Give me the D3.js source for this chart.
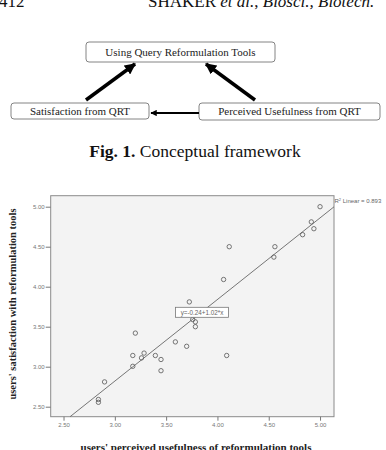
<!DOCTYPE html>
<html>
<head>
<meta charset="utf-8">
<script src="https://cdn.jsdelivr.net/npm/d3@7"></script>
<style>
  body { margin: 0; background: #fff; }
  svg { display: block; }
</style>
</head>
<body>
<div id="chart"></div>
<script>
// data
var usefulness = [5.00, 4.915, 4.94, 4.83, 4.56, 4.55, 4.115, 4.06, 3.726, 3.759, 3.785, 3.785,
                  3.20, 3.59, 3.70, 3.175, 3.285, 3.26, 3.395, 3.45, 3.45, 3.175, 4.09, 2.90, 2.84, 2.84];
var satisfaction = [5.00, 4.81, 4.725, 4.65, 4.50, 4.37, 4.50, 4.09, 3.81, 3.59, 3.56, 3.50,
                    3.42, 3.31, 3.255, 3.14, 3.17, 3.11, 3.14, 3.09, 2.95, 3.005, 3.14, 2.81, 2.59, 2.555];
var tickValues = [2.5, 3.0, 3.5, 4.0, 4.5, 5.0];
var fit = { a: -0.24, b: 1.02 };
var boxLabels = ["Using Query Reformulation Tools", "Satisfaction from QRT", "Perceived Usefulness from QRT"];

var width = 386, height = 450;
var serif = "'Liberation Serif', 'Times New Roman', serif";
var sans = "'Liberation Sans', Arial, sans-serif";

var svg = d3.select("#chart").append("svg")
  .attr("width", width)
  .attr("height", height);

// page header (cut at top)
var header = svg.append("g").attr("font-family", serif).attr("font-size", 17).attr("fill", "#111");
header.append("text").attr("x", -1).attr("y", 7).text("412");
var h2 = header.append("text").attr("x", 148).attr("y", 7);
h2.append("tspan").text("SHAKER ");
h2.append("tspan").attr("font-style", "italic").text("et al.");
h2.append("tspan").text(", ");
h2.append("tspan").attr("font-style", "italic").text("Biosci., Biotech.");

// conceptual framework diagram
svg.append("defs").append("marker")
  .attr("id", "head")
  .attr("viewBox", "0 0 10 10")
  .attr("refX", 9).attr("refY", 5)
  .attr("markerWidth", 3.2).attr("markerHeight", 3.2)
  .attr("markerUnits", "strokeWidth")
  .attr("orient", "auto")
  .append("path").attr("d", "M0,0L10,5L0,10Z").attr("fill", "#000");

var boxes = [
  { x: 86, y: 42, w: 189, h: 20 },
  { x: 11, y: 103, w: 138, h: 16 },
  { x: 199, y: 103, w: 181, h: 17 }
];
var diagram = svg.append("g");
diagram.selectAll("rect").data(boxes).enter().append("rect")
  .attr("x", function(d) { return d.x; })
  .attr("y", function(d) { return d.y; })
  .attr("width", function(d) { return d.w; })
  .attr("height", function(d) { return d.h; })
  .attr("rx", 3)
  .attr("fill", "#fff")
  .attr("stroke", "#666")
  .attr("stroke-width", 0.8);
diagram.selectAll("text").data(boxes).enter().append("text")
  .attr("x", function(d) { return d.x + d.w / 2; })
  .attr("y", function(d) { return d.y + d.h / 2 + 3.5; })
  .attr("text-anchor", "middle")
  .attr("font-family", serif)
  .attr("font-size", 11)
  .attr("fill", "#222")
  .text(function(d, i) { return boxLabels[i]; });

var arrows = [
  { x1: 86, y1: 100, x2: 135, y2: 64, w: 3.5 },
  { x1: 255, y1: 100, x2: 206, y2: 64, w: 3.5 },
  { x1: 199, y1: 113, x2: 151, y2: 113, w: 2 }
];
diagram.selectAll("line").data(arrows).enter().append("line")
  .attr("x1", function(d) { return d.x1; })
  .attr("y1", function(d) { return d.y1; })
  .attr("x2", function(d) { return d.x2; })
  .attr("y2", function(d) { return d.y2; })
  .attr("stroke", "#000")
  .attr("stroke-width", function(d) { return d.w; })
  .attr("marker-end", "url(#head)");

// caption
var cap = svg.append("text")
  .attr("x", 195).attr("y", 157)
  .attr("text-anchor", "middle")
  .attr("font-family", serif)
  .attr("font-size", 17.5)
  .attr("fill", "#111");
cap.append("tspan").attr("font-weight", "bold").text("Fig. 1.");
cap.append("tspan").text(" Conceptual framework");

// scatter plot
var x = d3.scaleLinear().domain([2.375, 5.136]).range([50.7, 334]);
var y = d3.scaleLinear().domain([2.375, 5.1375]).range([416.7, 195.7]);

var plot = svg.append("g");
plot.append("rect")
  .attr("x", x.range()[0]).attr("y", y.range()[1])
  .attr("width", x.range()[1] - x.range()[0])
  .attr("height", y.range()[0] - y.range()[1])
  .attr("fill", "#f3f3f3")
  .attr("stroke", "#8a8a8a")
  .attr("stroke-width", 1);

function styleAxis(g) {
  g.select(".domain").remove();
  g.selectAll(".tick line").attr("stroke", "#777");
  g.selectAll(".tick text").attr("fill", "#777").attr("font-size", 6).attr("font-family", sans);
}

plot.append("g")
  .attr("transform", "translate(" + x.range()[0] + ",0)")
  .call(d3.axisLeft(y).tickValues(tickValues).tickFormat(d3.format(".2f")).tickSize(5).tickPadding(1))
  .call(styleAxis);

plot.append("g")
  .attr("transform", "translate(0," + y.range()[0] + ")")
  .call(d3.axisBottom(x).tickValues(tickValues).tickFormat(d3.format(".2f")).tickSize(4).tickPadding(2))
  .call(styleAxis);

// fit line
var xStart = (y.domain()[0] - fit.a) / fit.b;
var xEnd = x.domain()[1];
plot.append("line")
  .attr("x1", x(xStart)).attr("y1", y(fit.a + fit.b * xStart))
  .attr("x2", x(xEnd)).attr("y2", y(fit.a + fit.b * xEnd))
  .attr("stroke", "#666")
  .attr("stroke-width", 0.9);

plot.selectAll("circle")
  .data(usefulness.map(function(u, i) { return [u, satisfaction[i]]; }))
  .enter().append("circle")
  .attr("cx", function(d) { return x(d[0]); })
  .attr("cy", function(d) { return y(d[1]); })
  .attr("r", 2.2)
  .attr("fill", "none")
  .attr("stroke", "#555")
  .attr("stroke-width", 0.8);

// equation label
plot.append("rect")
  .attr("x", 175.5).attr("y", 307.3).attr("width", 53).attr("height", 10)
  .attr("fill", "#fff").attr("stroke", "#777").attr("stroke-width", 0.8);
plot.append("text")
  .attr("x", 202).attr("y", 314.6)
  .attr("text-anchor", "middle")
  .attr("font-family", sans).attr("font-size", 6.3).attr("fill", "#666")
  .text("y=-0.24+1.02*x");

var r2 = plot.append("text")
  .attr("x", 334.5).attr("y", 203)
  .attr("font-family", sans).attr("font-size", 6).attr("fill", "#666");
r2.append("tspan").text("R");
r2.append("tspan").attr("font-size", 4).attr("dy", -2.5).text("2");
r2.append("tspan").attr("dy", 2.5).text(" Linear = 0.893");

// axis titles
svg.append("text")
  .attr("transform", "translate(16,304) rotate(-90)")
  .attr("text-anchor", "middle")
  .attr("font-family", serif).attr("font-weight", "bold").attr("font-size", 10.5).attr("fill", "#222")
  .text("users' satisfaction with reformulation tools");

svg.append("text")
  .attr("x", 196).attr("y", 451)
  .attr("text-anchor", "middle")
  .attr("font-family", serif).attr("font-weight", "bold").attr("font-size", 11).attr("fill", "#222")
  .text("users' perceived usefulness of reformulation tools");
</script>
</body>
</html>
